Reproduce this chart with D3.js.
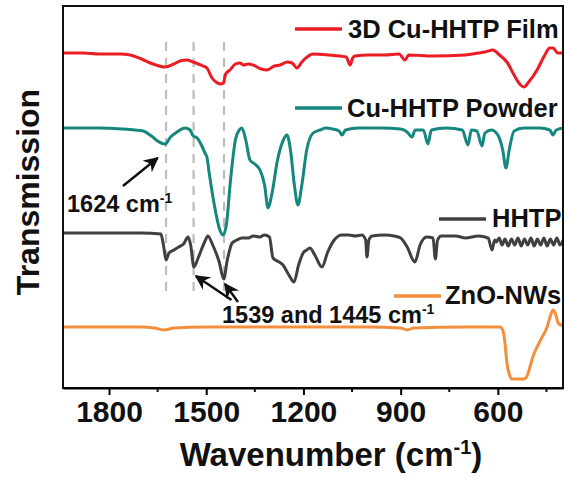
<!DOCTYPE html>
<html>
<head>
<meta charset="utf-8">
<script src="https://cdn.jsdelivr.net/npm/d3@7/dist/d3.min.js"></script>
<style>
  body { margin: 0; background: #fff; }
  text { font-family: "Liberation Sans", Arial, sans-serif; font-weight: bold; fill: #111; }
</style>
</head>
<body>
<div id="chart"></div>
<script>
// spectra as [wavenumber, transmission (a.u., offset)]
var filmSpectrum = [
  [1942,335],[1880,335],[1830,334],[1766,334],[1735,333],[1700,329],[1673,325],[1645,322],
  [1627,321],[1600,324],[1581,327],[1560,328],[1540,326],[1510,322],[1498,320],[1482,310],
  [1470,306],[1455,304],[1447,305],[1440,314],[1427,318],[1410,324],[1396,325],[1385,323],
  [1370,324],[1356,323],[1330,319],[1312,318],[1290,322],[1272,323],[1250,326],[1235,325],
  [1220,320],[1205,326],[1170,334],[1120,333],[1087,332],[1068,331],[1056,323],[1048,330],
  [1041,332],[1000,333],[950,333],[905,334],[887,328],[875,333],[800,332],[700,333],
  [660,335],[640,336],[615,338],[595,333],[572,326],[550,313],[530,303],[520,301],
  [505,306],[479,318],[455,333],[440,340],[430,340],[415,335],[399,335]
];
var powderSpectrum = [
  [1942,260],[1830,260],[1760,259],[1720,258],[1695,257],[1665,251],[1650,247],[1627,244],
  [1610,251],[1590,256],[1565,260],[1550,258],[1540,252],[1528,250],[1515,243],[1504,235],
  [1498,231],[1490,213],[1475,183],[1460,160],[1448,153],[1438,163],[1425,208],[1410,248],
  [1398,258],[1390,260],[1378,248],[1365,228],[1350,224],[1334,218],[1320,203],[1309,180],
  [1298,193],[1280,228],[1262,248],[1251,253],[1240,238],[1228,203],[1217,183],[1205,203],
  [1190,238],[1170,255],[1149,258],[1130,260],[1110,259],[1090,257],[1081,253],[1070,258],
  [1030,260],[960,260],[900,259],[880,256],[865,251],[855,258],[830,258],[816,244],
  [805,258],[760,260],[710,258],[692,243],[682,258],[665,257],[649,242],[640,255],
  [620,258],[600,253],[585,238],[575,220],[565,238],[550,257],[520,260],[470,260],
  [440,258],[430,253],[420,258],[399,260]
];
var hhtpSpectrum = [
  [1942,155],[1700,155],[1640,154],[1632,143],[1624,128],[1615,135],[1600,138],[1585,141],
  [1570,144],[1556,151],[1548,143],[1538,121],[1525,130],[1505,146],[1495,152],[1480,143],
  [1460,126],[1446,109],[1435,128],[1420,145],[1405,148],[1390,150],[1370,150],[1355,152],
  [1335,151],[1320,153],[1305,151],[1294,130],[1275,126],[1263,123],[1245,113],[1229,106],
  [1215,123],[1201,135],[1190,138],[1180,140],[1165,133],[1143,121],[1125,136],[1105,148],
  [1081,153],[1060,153],[1040,152],[1020,153],[1008,148],[1004,131],[998,148],[988,152],
  [950,153],[920,152],[900,150],[880,141],[856,126],[840,143],[820,151],[800,150],
  [793,129],[786,148],[775,152],[730,152],[700,150],[660,152],[630,150],[618,138],
  [610,148],[605,146],[596,150],[587,143],[578,149],[568,142],[558,149],[548,143],
  [538,150],[528,142],[518,149],[508,143],[498,150],[488,142],[478,149],[468,143],
  [458,150],[448,142],[438,149],[428,143],[418,150],[408,143],[399,148]
];
var znoSpectrum = [
  [1942,61],[1700,61],[1660,60],[1630,58],[1600,60],[1500,61],[1200,61],[1000,61],
  [900,60],[880,58],[860,60],[700,61],[593,61],[585,58],[578,45],[572,25],[565,14],
  [556,9],[540,9],[520,9],[510,12],[500,22],[490,33],[479,41],[465,50],[448,61],
  [438,72],[430,78],[422,74],[414,65],[405,63],[399,62]
];

var seriesNames = ['3D Cu-HHTP Film', 'Cu-HHTP Powder', 'HHTP', 'ZnO-NWs'];
var seriesColors = ['#ec1c24', '#16877f', '#404040', '#f28e3c'];
var seriesData = [filmSpectrum, powderSpectrum, hhtpSpectrum, znoSpectrum];

var majorTicks = [1800, 1500, 1200, 900, 600];
var minorTicks = [1650, 1350, 1050, 750, 450];
var markedPeaks = [1624, 1539, 1445];

var width = 565, height = 481;
var margin = {top: 6, right: 2, bottom: 93, left: 63};

var svg = d3.select('#chart')
    .append('svg')
    .attr('width', width)
    .attr('height', height);

var x = d3.scaleLinear()
    .domain([1942, 399])
    .range([margin.left, width - margin.right]);

var y = d3.scaleLinear()
    .domain([0, 382])
    .range([height - margin.bottom, margin.top]);

// dashed guide lines at the marked bands
svg.append('g')
    .selectAll('line')
    .data(markedPeaks)
    .enter()
    .append('line')
    .attr('x1', function(d) { return x(d); })
    .attr('x2', function(d) { return x(d); })
    .attr('y1', y(346))
    .attr('y2', y(90))
    .attr('stroke', '#bdbdbd')
    .attr('stroke-width', 2.2)
    .attr('stroke-dasharray', '9,7');

var line = d3.line()
    .x(function(d) { return x(d[0]); })
    .y(function(d) { return y(d[1]); })
    .curve(d3.curveMonotoneX);

svg.append('g')
    .selectAll('path')
    .data(seriesData)
    .enter()
    .append('path')
    .attr('d', line)
    .attr('fill', 'none')
    .attr('stroke', function(d, i) { return seriesColors[i]; })
    .attr('stroke-width', 3)
    .attr('stroke-linejoin', 'round');

// legend entries sit above each trace
var legendPos = [
  {x: 295, y: 29, tx: 348, ty: 38},
  {x: 295, y: 108, tx: 347, ty: 117},
  {x: 439, y: 219, tx: 492, ty: 227},
  {x: 394, y: 296, tx: 445, ty: 304}
];
var legend = svg.append('g')
    .selectAll('g')
    .data(seriesNames)
    .enter()
    .append('g');

legend.append('line')
    .attr('x1', function(d, i) { return legendPos[i].x; })
    .attr('x2', function(d, i) { return legendPos[i].x + 47; })
    .attr('y1', function(d, i) { return legendPos[i].y; })
    .attr('y2', function(d, i) { return legendPos[i].y; })
    .attr('stroke', function(d, i) { return seriesColors[i]; })
    .attr('stroke-width', 3.5);

legend.append('text')
    .attr('x', function(d, i) { return legendPos[i].tx; })
    .attr('y', function(d, i) { return legendPos[i].ty; })
    .style('font-size', '25.5px')
    .text(function(d) { return d; });

// frame
svg.append('rect')
    .attr('x', margin.left)
    .attr('y', margin.top)
    .attr('width', width - margin.left - margin.right)
    .attr('height', height - margin.top - margin.bottom)
    .attr('fill', 'none')
    .attr('stroke', '#111')
    .attr('stroke-width', 2);

// x axis
var xAxis = d3.axisBottom(x)
    .tickValues(majorTicks)
    .tickFormat(d3.format('d'))
    .tickSizeInner(7)
    .tickSizeOuter(0)
    .tickPadding(6);

var gx = svg.append('g')
    .attr('transform', 'translate(0,' + (height - margin.bottom) + ')')
    .call(xAxis);
gx.select('.domain').attr('stroke-width', 2);
gx.selectAll('.tick line').attr('stroke-width', 2);
gx.selectAll('.tick text')
    .style('font-family', '"Liberation Sans", Arial, sans-serif')
    .style('font-weight', 'bold')
    .style('font-size', '30px')
    .attr('fill', '#111');

gx.selectAll('.minor')
    .data(minorTicks)
    .enter()
    .append('line')
    .attr('x1', function(d) { return x(d); })
    .attr('x2', function(d) { return x(d); })
    .attr('y1', 0)
    .attr('y2', 4)
    .attr('stroke', '#111')
    .attr('stroke-width', 2);

// axis titles
var xTitle = svg.append('text')
    .attr('x', 331)
    .attr('y', 466)
    .attr('text-anchor', 'middle')
    .style('font-size', '33px');
xTitle.append('tspan').text('Wavenumber (cm');
xTitle.append('tspan').attr('dy', -12).style('font-size', '20px').text('-1');
xTitle.append('tspan').attr('dy', 12).text(')');

svg.append('text')
    .attr('transform', 'translate(39,192) rotate(-90)')
    .attr('text-anchor', 'middle')
    .style('font-size', '32px')
    .text('Transmission');

// annotations
svg.append('defs').append('marker')
    .attr('id', 'head')
    .attr('viewBox', '0 0 10 10')
    .attr('refX', 9)
    .attr('refY', 5)
    .attr('markerWidth', 6)
    .attr('markerHeight', 6)
    .attr('orient', 'auto')
    .append('path')
    .attr('d', 'M0,0 L10,5 L0,10 L3,5 Z')
    .attr('fill', '#111');

var arrows = [
  [[1757, 202], [1650, 230]],
  [[1422, 88], [1532, 112]],
  [[1402, 86], [1442, 104]]
];
svg.append('g')
    .selectAll('line')
    .data(arrows)
    .enter()
    .append('line')
    .attr('x1', function(d) { return x(d[0][0]); })
    .attr('y1', function(d) { return y(d[0][1]); })
    .attr('x2', function(d) { return x(d[1][0]); })
    .attr('y2', function(d) { return y(d[1][1]); })
    .attr('stroke', '#111')
    .attr('stroke-width', 2.5)
    .attr('marker-end', 'url(#head)');

var note1 = svg.append('text')
    .attr('x', 67)
    .attr('y', 212)
    .style('font-size', '23.5px');
note1.append('tspan').text('1624 cm');
note1.append('tspan').attr('dy', -9).style('font-size', '14px').text('-1');

var note2 = svg.append('text')
    .attr('x', 222)
    .attr('y', 323)
    .style('font-size', '23.5px');
note2.append('tspan').text('1539 and 1445 cm');
note2.append('tspan').attr('dy', -9).style('font-size', '14px').text('-1');
</script>
</body>
</html>
